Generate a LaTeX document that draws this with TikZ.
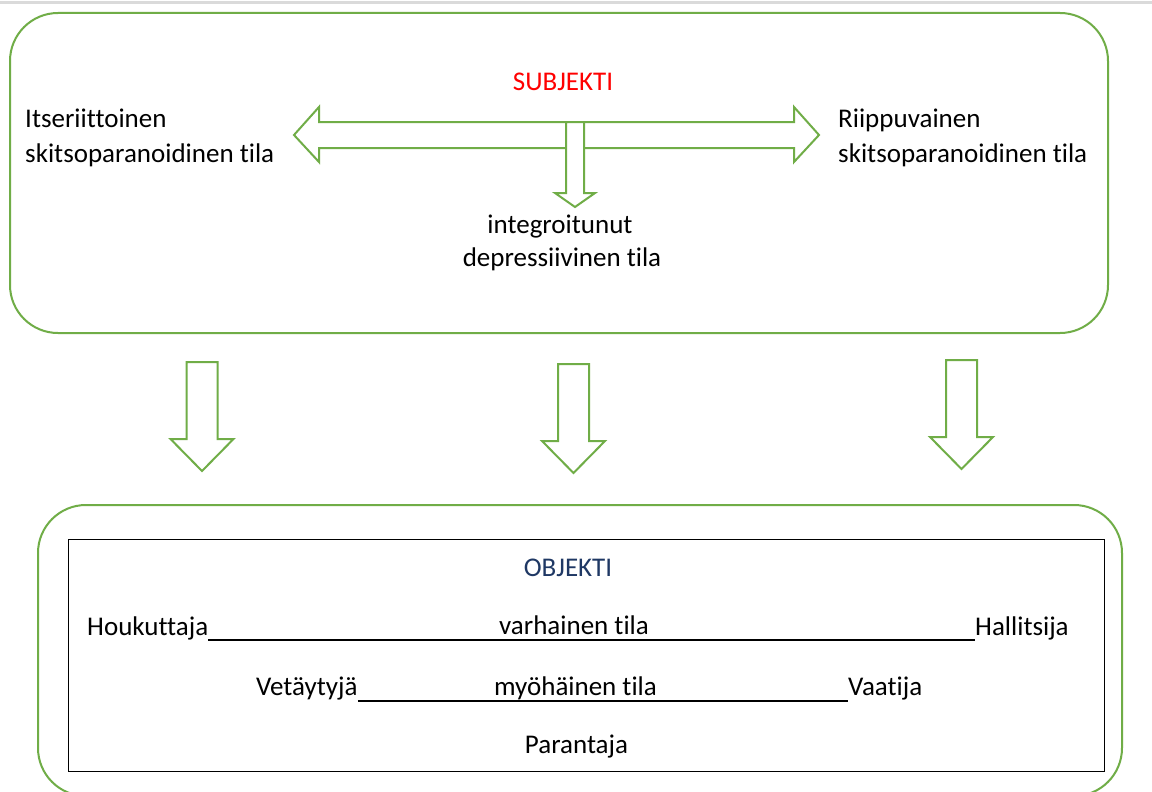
\documentclass[tikz,border=0pt]{standalone}
\usepackage{fontspec}
\setmainfont{Carlito}[Ligatures=NoCommon]
\definecolor{ogreen}{RGB}{112,173,71}
\definecolor{ored}{RGB}{255,0,0}
\definecolor{onavy}{RGB}{31,56,100}
\definecolor{topgrey}{RGB}{218,218,218}
\begin{document}
\begin{tikzpicture}[x=1pt,y=-1pt,
  greenbox/.style={draw=ogreen, line width=2pt, rounded corners=48pt, inner sep=0pt, fill=none},
  innerbox/.style={draw=black, line width=0.9pt, inner sep=0pt},
  blockarrow/.style={draw=ogreen, line width=2pt, fill=white, line join=miter},
  txt/.style={inner sep=0pt, font=\fontsize{27}{34}\selectfont, text=black},
  uline/.style={draw=black, line width=1.8pt},
  pics/downarrow/.style={code={
    \draw[blockarrow] (-15.5,0) -- (15.5,0) -- (15.5,77) -- (31.5,77) -- (0,109)
      -- (-31.5,77) -- (-15.5,77) -- cycle;
  }}]
\useasboundingbox (0,0) rectangle (1152,792);
\clip (0,0) rectangle (1152,792);
\fill[white] (0,0) rectangle (1152,792);
\draw[draw=topgrey, line width=3pt] (0,2.5) -- (1152,2.5);

% top box
\node[greenbox, minimum width=1098pt, minimum height=320pt] (subjbox) at (559,173) {};

\node[txt, text=ored, anchor=base] (subj) at (563,91) {SUBJEKTI};

\node[txt, anchor=base west] (left1) at (25,127) {Itseriittoinen};
\node[txt, anchor=base west] (left2) at (25,162) {skitsoparanoidinen tila};
\node[txt, anchor=base west] (right1) at (838,127) {Riippuvainen};
\node[txt, anchor=base west] (right2) at (838,162) {skitsoparanoidinen tila};

% double arrow
\coordinate (dl) at (294,135);
\coordinate (dr) at (819,135);
\draw[blockarrow] (dl) -- (319,107) -- (319,122) -- (794,122) -- (794,107) -- (dr)
  -- (794,162) -- (794,148) -- (319,148) -- (319,162) -- cycle;
% small down arrow
\draw[blockarrow] (566,122) -- (584,122) -- (584,193) -- (595,193) -- (575,207)
  -- (555,193) -- (566,193) -- cycle;

\node[txt, anchor=base] (int1) at (560,233) {integroitunut};
\node[txt, anchor=base] (int2) at (562,266) {depressiivinen tila};

% three down arrows
\pic at (202,362) {downarrow};
\pic at (573.5,364) {downarrow};
\pic at (961.5,360) {downarrow};

% bottom box
\node[greenbox, minimum width=1084pt, minimum height=291pt] (objbox) at (580,650.5) {};
\node[innerbox, minimum width=1036pt, minimum height=232pt] (inner) at (586,655) {};

\node[txt, text=onavy, anchor=base] (obj) at (568,576) {OBJEKTI};

\node[txt, anchor=base west] (hou) at (87,635) {Houkuttaja};
\node[txt, anchor=base west] (hal) at (975,635) {Hallitsija};
\draw[uline] ([yshift=-5pt]hou.base east) -- ([yshift=-5pt]hal.base west);
\node[txt, anchor=base] (early) at (574,634) {varhainen tila};

\node[txt, anchor=base west] (vet) at (256,695) {Vetäytyjä};
\node[txt, anchor=base west] (vaa) at (848,695) {Vaatija};
\draw[uline] ([yshift=-6pt]vet.base east) -- ([yshift=-6pt]vaa.base west);
\node[txt, anchor=base] (late) at (575.5,695) {myöhäinen tila};

\node[txt, anchor=base] (par) at (576.5,753) {Parantaja};
\end{tikzpicture}
\end{document}
